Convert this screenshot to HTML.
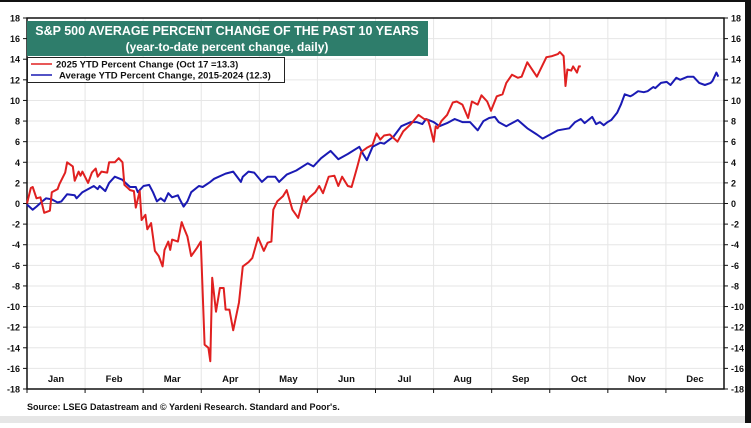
<!DOCTYPE html>
<html><head><meta charset="utf-8">
<style>
body{margin:0;background:#fff;width:751px;height:423px;overflow:hidden;font-family:"Liberation Sans",Arial,sans-serif;}
svg text{font-family:"Liberation Sans",Arial,sans-serif;font-weight:bold;}
</style></head>
<body>
<svg id="chart" width="751" height="423" viewBox="0 0 751 423" xmlns="http://www.w3.org/2000/svg">
<rect x="0" y="0" width="751" height="423" fill="#fff"/>
<rect x="0" y="0" width="751" height="2" fill="#111"/>
<rect x="745" y="0" width="6" height="423" fill="#111"/>
<rect x="0" y="416" width="745" height="7" fill="#e6e6e6"/>
<g id="grid"></g>
<g id="axes"></g>
<g id="series"></g>
<rect x="27" y="21" width="401" height="35" fill="#2e7d6b"/>
<text x="227" y="35" text-anchor="middle" fill="#fff" font-size="12.5">S&amp;P 500 AVERAGE PERCENT CHANGE OF THE PAST 10 YEARS</text>
<text x="227" y="51" text-anchor="middle" fill="#fff" font-size="12">(year-to-date percent change, daily)</text>
<g>
<rect x="27.5" y="57.5" width="257" height="25" fill="#fff" stroke="#222" stroke-width="1"/>
<line x1="31" y1="64" x2="52" y2="64" stroke="#e02020" stroke-width="1.5"/>
<text x="56" y="67.5" font-size="9.5" fill="#111">2025 YTD Percent Change (Oct 17 =13.3)</text>
<line x1="31" y1="75" x2="52" y2="75" stroke="#1a1ab4" stroke-width="1.5"/>
<text x="59" y="78.5" font-size="9.5" fill="#111">Average YTD Percent Change, 2015-2024 (12.3)</text>
</g>
<text x="27" y="410" font-size="9" fill="#111">Source: LSEG Datastream and © Yardeni Research. Standard and Poor's.</text>
</svg>
<script>
const months = ["Jan","Feb","Mar","Apr","May","Jun","Jul","Aug","Sep","Oct","Nov","Dec"];
const yTicks = [18,16,14,12,10,8,6,4,2,0,-2,-4,-6,-8,-10,-12,-14,-16,-18];
const redDays = [0,2,3,5,7,9,12,13,16,17,20,21,24,25,27,28,29,32,34,36,37,39,42,43,46,48,50,51,54,56,57,59,60,62,63,65,67,69,71,72,74,75,76,79,81,82,84,86,89,91,93,95,96,97,99,101,103,104,106,108,111,113,116,118,121,124,126,128,129,131,134,136,139,142,145,146,148,151,153,155,158,161,163,165,168,170,173,175,178,181,183,185,187,190,194,197,201,205,208,210,211,213,214,215,217,220,223,225,228,231,233,236,238,241,243,246,249,251,254,257,259,262,267,272,275,278,279,281,282,283,285,286,288,289,290];
const redValues = [0,1.5,1.6,0.5,0.6,-0.9,-0.7,1.1,1.4,1.9,3,4,3.6,2.2,3.1,2.7,3.1,2,3,3.4,2.6,3.1,3,4,4,4.4,4,1.8,1.3,1.2,-0.4,1.2,-1.6,-1.1,-2.5,-1.9,-4.6,-5.1,-6.1,-4.5,-3.7,-4.5,-3.5,-3.7,-1.8,-2.3,-3.2,-5.1,-4.3,-3.7,-13.7,-14,-15.3,-7.2,-10.5,-8.2,-8.2,-10.3,-10.3,-12.3,-9.6,-6.1,-5.7,-5.3,-3.3,-4.6,-3.8,-3.7,-0.6,0.2,0.7,1.3,-0.6,-1.4,0.7,0.1,0.6,1.1,1.7,1,2.6,2.7,1.7,2.6,1.7,1.6,3.6,5,5.4,5.7,6.8,6.2,6.6,6.7,6,7,7.7,8.6,8.2,8.1,7.5,6,7.5,7.3,8,8.6,9.8,9.9,9.6,8.3,9.9,9.6,10.5,9.9,9,10.4,10.6,11.7,12.5,12.2,12.3,13.7,12.3,14.2,14.3,14.5,14.7,14.3,11.4,13,12.9,13.3,12.7,13.3,13.3];
const blueDays = [0,3,5,8,10,13,16,18,21,25,26,29,32,35,37,38,41,43,46,50,51,54,57,58,61,64,66,68,70,72,74,76,79,80,82,84,86,90,92,96,98,104,108,112,113,116,119,123,126,130,132,136,141,147,150,154,159,163,168,174,176,178,181,185,187,192,196,201,204,207,209,213,216,220,224,228,232,236,239,242,245,247,251,254,257,262,267,270,274,278,281,284,287,290,292,296,298,300,302,304,306,309,311,313,316,317,320,323,325,328,329,332,335,337,340,342,346,349,352,355,358,359,361,362];
const blueValues = [-0.1,-0.6,-0.3,0.2,0.5,0.4,0.1,0.2,0.9,0.8,0.5,1.1,1.4,1.7,1.4,1.7,1.2,2,2.6,2.3,2.1,1.6,1.6,1.1,1.7,1.8,1.1,0.2,0.5,0.2,1,0.6,0.8,0.4,-0.3,0.2,1.1,1.7,1.6,2.1,2.4,2.9,3.1,2.1,2.6,3.1,3,2.1,2.6,2.6,2.1,2.8,3.2,3.9,3.6,4.4,5.1,4.3,4.8,5.5,4.8,4.2,5.5,5.9,5.8,6.5,7.5,7.9,7.9,7.7,8.2,7.9,7.5,7.8,8.2,7.9,7.9,7.1,8,8.3,8.4,7.9,7.5,7.8,8.1,7.3,6.7,6.3,6.7,7.1,7.2,7.3,7.9,8.2,7.8,8.4,7.7,7.9,7.6,7.9,8.1,8.8,9.6,10.6,10.4,10.5,10.9,10.8,10.9,11.3,11.2,11.7,11.8,11.5,12.2,12,12.3,12.3,11.7,11.5,11.7,11.9,12.7,12.3];

const NS = "http://www.w3.org/2000/svg";
const L = 27, R = 724, T = 18, B = 389;
const xScale = d => L + d / 365 * (R - L);
const yScale = v => T + (18 - v) / 36 * (B - T);
function mk(tag, attrs, parent) {
  const e = document.createElementNS(NS, tag);
  for (const k in attrs) e.setAttribute(k, attrs[k]);
  parent.appendChild(e);
  return e;
}
const grid = document.getElementById('grid');
const axes = document.getElementById('axes');
const series = document.getElementById('series');

yTicks.forEach(v => {
  const y = yScale(v);
  if (v !== 18 && v !== -18 && v !== 0) {
    const g = mk('line', {x1: L, x2: R, y1: y, y2: y, stroke: '#e6e6e6', 'stroke-width': 1}, grid);
    
    
  }
  const t1 = mk('line', {x1: L - 4, x2: L, y1: y, y2: y, stroke: '#111', 'stroke-width': 1}, axes);
  
  
  const t2 = mk('line', {x1: R, x2: R + 4, y1: y, y2: y, stroke: '#111', 'stroke-width': 1}, axes);
  
  
  const l1 = mk('text', {x: 20, y: y + 3.5, 'text-anchor': 'end', 'font-size': 9, fill: '#111'}, axes);
  l1.textContent = v;
  
  
  const l2 = mk('text', {x: 731, y: y + 3.5, 'text-anchor': 'start', 'font-size': 9, fill: '#111'}, axes);
  l2.textContent = v;
  
  
});
for (let i = 1; i < 12; i++) {
  const x = L + i * (R - L) / 12;
  const g = mk('line', {x1: x, x2: x, y1: T, y2: B, stroke: '#e6e6e6', 'stroke-width': 1}, grid);
  
  
}
months.forEach((m, i) => {
  const xb = L + i * (R - L) / 12;
  const tk = mk('line', {x1: xb, x2: xb, y1: B, y2: B + 4, stroke: '#111', 'stroke-width': 1}, axes);
  
  
  const t = mk('text', {x: xb + (R - L) / 24, y: 382, 'text-anchor': 'middle', 'font-size': 9.5, fill: '#111'}, axes);
  t.textContent = m;
  
  
});
const zero = mk('line', {x1: L, x2: R, y1: yScale(0), y2: yScale(0), stroke: '#777', 'stroke-width': 1}, axes);


const frame = mk('rect', {x: L, y: T, width: R - L, height: B - T, fill: 'none', stroke: '#111', 'stroke-width': 1.5}, axes);



function line(days, vals, color, name) {
  const n = Math.min(days.length, vals.length);
  let d = '';
  for (let i = 0; i < n; i++) d += (i ? 'L' : 'M') + xScale(days[i]).toFixed(1) + ',' + yScale(vals[i]).toFixed(1);
  const p = mk('path', {d: d, fill: 'none', stroke: color, 'stroke-width': 2, 'stroke-linejoin': 'round'}, series);
  
  
}
line(blueDays, blueValues, '#1a1ab4', 'average-2015-2024-line');
line(redDays, redValues, '#e02020', 'ytd-2025-line');
</script>
</body></html>
